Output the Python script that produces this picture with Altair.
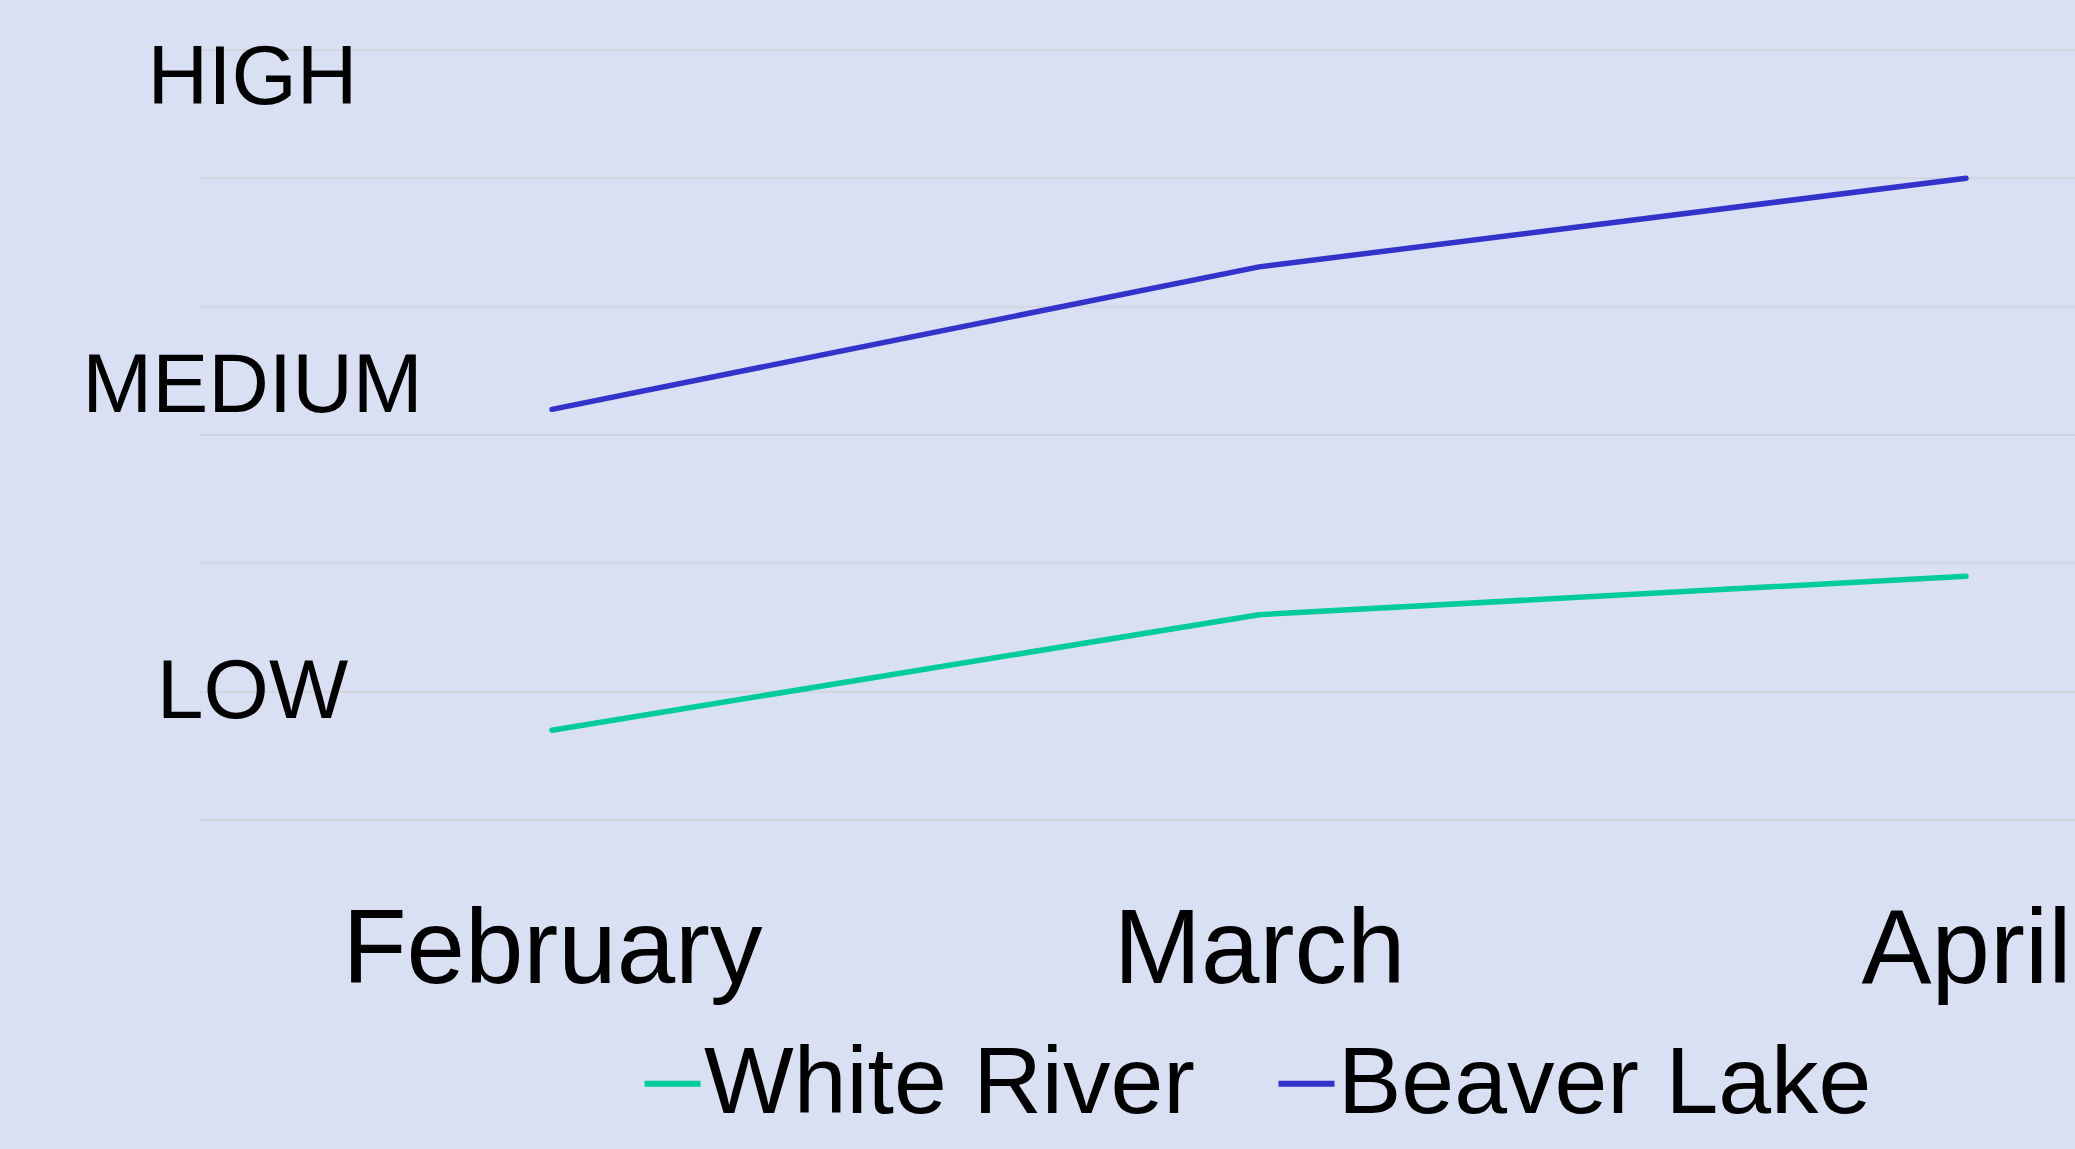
import altair as alt
import pandas as pd

months = ["February", "March", "April"]
white_river = [0.70, 1.60, 1.90]
beaver_lake = [3.20, 4.31, 5.00]
series_names = ["White River", "Beaver Lake"]
series_colors = ["#00cc99", "#3333cc"]
level_labels = ["LOW", "MEDIUM", "HIGH"]
level_positions = [0.80, 3.18, 5.58]
grid_values = [0, 1, 2, 3, 4, 5, 6]

rows = []
for name, vals in zip(series_names, [white_river, beaver_lake]):
    for m, v in zip(months, vals):
        rows.append({"month": m, "series": name, "level": v})
df = pd.DataFrame(rows)
grid_df = pd.DataFrame({"g": grid_values})

label_expr = " : ".join(
    f"datum.value == {p} ? '{l}'" for p, l in zip(level_positions, level_labels)
) + " : ''"

FONT = "Liberation Sans"
yscale = alt.Scale(domain=[0, 6], nice=False, zero=False)
yaxis = alt.Axis(
    values=level_positions, labelExpr=label_expr, grid=False, domain=False,
    ticks=False, tickSize=0, labelPadding=-52, labelAlign="center",
    labelBaseline="alphabetic", labelFontSize=84, labelFont=FONT,
    labelColor="black", labelLimit=1000, labelOverlap=False, title=None,
    zindex=2,
)

grid = alt.Chart(grid_df).mark_rule(color="#d2d5dd", strokeWidth=2).encode(
    y=alt.Y("g:Q", scale=yscale, axis=yaxis)
)

lines = alt.Chart(df).mark_line(strokeWidth=5.5, strokeCap="round", strokeJoin="round").encode(
    x=alt.X(
        "month:N", sort=months,
        scale=alt.Scale(type="point", padding=0.326, align=0.7636),
        axis=alt.Axis(
            title=None, domain=False, ticks=False, tickSize=0, grid=False,
            labelFontSize=105, labelFont=FONT, labelColor="black",
            labelPadding=162, labelBaseline="alphabetic", labelAngle=0,
            labelLimit=1000, labelOverlap=False,
        ),
    ),
    y=alt.Y("level:Q", scale=yscale, axis=yaxis),
    color=alt.Color(
        "series:N", sort=series_names,
        scale=alt.Scale(domain=series_names, range=series_colors),
        legend=alt.Legend(
            title=None, orient="none", legendX=425, legendY=986,
            direction="horizontal", symbolType="stroke", symbolSize=3136,
            symbolStrokeWidth=6, labelFontSize=95,
            labelFont=FONT, labelColor="black",
            labelOffset=alt.ExprRef(expr="-16"),
            columnPadding=64, labelLimit=1000,
        ),
    ),
)

chart = alt.layer(grid, lines).properties(
    width=1875, height=770,
    padding={"left": 200, "top": 50, "right": 0, "bottom": 329},
    autosize=alt.AutoSizeParams(type="none"),
).configure(background="#d9e0f3").configure_view(stroke=None)

chart.save("out.html", embed_options={"renderer": "svg", "actions": False})
